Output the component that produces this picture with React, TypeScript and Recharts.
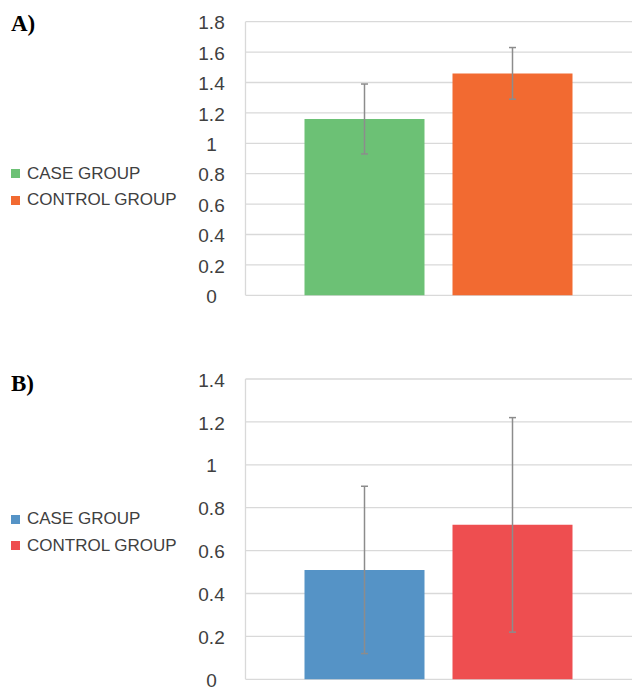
import React from 'react';
import { BarChart, Bar, XAxis, YAxis, CartesianGrid, ErrorBar, Legend } from 'recharts';

// values
const groups = ['CASE GROUP', 'CONTROL GROUP'];
const meansA = [1.16, 1.46];
const errorsA = [0.23, 0.17];
const meansB = [0.51, 0.72];
const errorsB = [0.39, 0.5];
const ticksA = [0, 0.2, 0.4, 0.6, 0.8, 1, 1.2, 1.4, 1.6, 1.8];
const ticksB = [0, 0.2, 0.4, 0.6, 0.8, 1, 1.2, 1.4];
const colorsA = ['#6cc175', '#f26a31'];
const colorsB = ['#5593c6', '#ee4e50'];

const FONT = '"Liberation Sans", Arial, sans-serif';
const TEXT = '#404040';
const GRID = '#d9d9d9';

const AxisTick = ({ x, y, payload }: any) => (
  <text x={x} y={y} dy="0.4em" textAnchor="middle" fill={TEXT} fontSize={19} fontFamily={FONT}>
    {payload.value}
  </text>
);

function GroupLegend({ colors }: { colors: string[] }) {
  return (
    <div style={{ fontFamily: FONT, fontSize: 17, color: TEXT }}>
      {groups.map((g, i) => (
        <div key={g} style={{ display: 'flex', alignItems: 'center', height: 26.5, whiteSpace: 'nowrap' }}>
          <div style={{ width: 9, height: 9, background: colors[i], marginRight: 7 }} />
          <span>{g}</span>
        </div>
      ))}
    </div>
  );
}

function Panel({
  means,
  errors,
  ticks,
  colors,
  height,
  margin,
  legendTop,
}: {
  means: number[];
  errors: number[];
  ticks: number[];
  colors: string[];
  height: number;
  margin: { top: number; right: number; bottom: number; left: number };
  legendTop: number;
}) {
  const rows = [{ name: '', caseVal: means[0], caseErr: errors[0], controlVal: means[1], controlErr: errors[1] }];
  return (
    <BarChart width={632} height={height} data={rows} margin={margin} barSize={120} barGap={28}>
      <CartesianGrid vertical={false} stroke={GRID} strokeWidth={1.3} />
      <XAxis dataKey="name" hide />
      <YAxis
        width={245.5}
        domain={[0, ticks[ticks.length - 1]]}
        ticks={ticks}
        interval={0}
        tickSize={0}
        tickMargin={34}
        tickLine={false}
        axisLine={{ stroke: GRID, strokeWidth: 1.3 }}
        tick={<AxisTick />}
      />
      <Legend
        layout="vertical"
        align="center"
        verticalAlign="middle"
        wrapperStyle={{ left: 11, top: legendTop, width: 'auto' }}
        content={() => <GroupLegend colors={colors} />}
      />
      <Bar dataKey="caseVal" name={groups[0]} fill={colors[0]} isAnimationActive={false}>
        <ErrorBar dataKey="caseErr" width={3.5} stroke="#8c8c8c" strokeWidth={1.5} direction="y" />
      </Bar>
      <Bar dataKey="controlVal" name={groups[1]} fill={colors[1]} isAnimationActive={false}>
        <ErrorBar dataKey="controlErr" width={3.5} stroke="#8c8c8c" strokeWidth={1.5} direction="y" />
      </Bar>
    </BarChart>
  );
}

const panelLabel: React.CSSProperties = {
  position: 'absolute',
  left: 11,
  fontFamily: '"Liberation Serif", "Times New Roman", serif',
  fontWeight: 'bold',
  fontSize: 23,
  lineHeight: '23px',
  color: '#000',
};

export default function App() {
  return (
    <div style={{ position: 'absolute', left: 0, top: 0, width: 632, height: 690, background: '#fff', overflow: 'hidden' }}>
      <div style={{ position: 'absolute', left: 0, top: 0 }}>
        <Panel
          means={meansA}
          errors={errorsA}
          ticks={ticksA}
          colors={colorsA}
          height={320}
          margin={{ top: 21.7, right: 0, bottom: 24.7, left: 0 }}
          legendTop={160.5}
        />
      </div>
      <div style={{ position: 'absolute', left: 0, top: 340 }}>
        <Panel
          means={meansB}
          errors={errorsB}
          ticks={ticksB}
          colors={colorsB}
          height={350}
          margin={{ top: 39, right: 0, bottom: 10.7, left: 0 }}
          legendTop={165.75}
        />
      </div>
      <div style={{ ...panelLabel, top: 11.8 }}>A)</div>
      <div style={{ ...panelLabel, top: 372.3 }}>B)</div>
    </div>
  );
}
